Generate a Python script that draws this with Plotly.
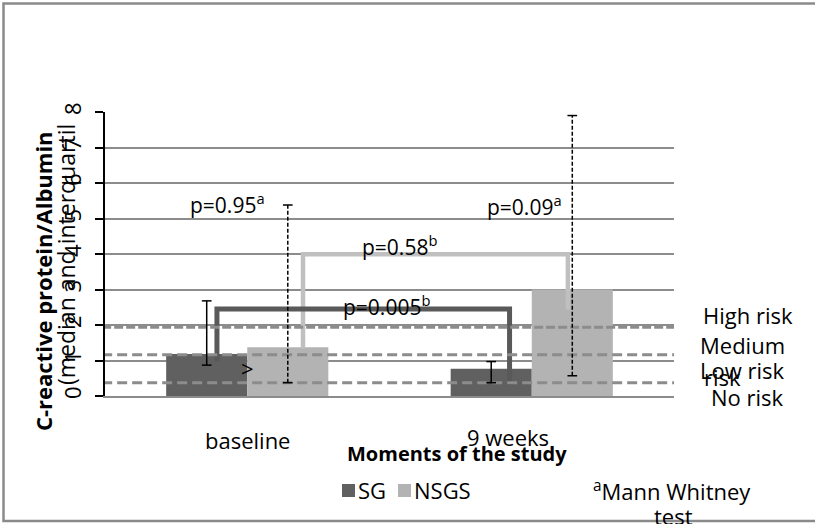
import plotly.graph_objects as go

# ---------------- data ----------------
categories = ["baseline", "9 weeks"]
series_names = ["SG", "NSGS"]
sg_median = [1.18, 0.77]
nsgs_median = [1.37, 3.0]
sg_q1 = [0.87, 0.375]
sg_q3 = [2.68, 0.97]
nsgs_q1 = [0.375, 0.57]
nsgs_q3 = [5.38, 7.9]
risk_levels = [1.94, 1.16, 0.375]
risk_labels = ["High risk", "Medium", "risk", "Low risk", "No risk"]
risk_label_y = [2.28, 1.43, 0.54, 0.73, -0.03]
y_ticks = [0, 1, 2, 3, 4, 5, 6, 7, 8]
sg_bracket_x = [-0.1065, -0.1065, 0.922, 0.922]
sg_bracket_y = [0.97, 2.45, 2.45, 0.31]
nsgs_bracket_x = [0.196, 0.196, 1.127, 1.127]
nsgs_bracket_y = [1.34, 3.99, 3.99, 2.44]
p_texts = ["p=0.95<sup>a</sup>", "p=0.58<sup>b</sup>", "p=0.005<sup>b</sup>", "p=0.09<sup>a</sup>"]
p_x = [-0.07, 0.534, 0.49, 0.974]
p_y = [5.43, 4.25, 2.56, 5.38]

# ---------------- layout geometry ----------------
W, H = 815, 524
L, R, T, B = 105, 674, 112, 396
BAR_W = 0.285
FONT = "Open Sans"
SG_COL = "#606060"
NSGS_COL = "#b3b3b3"


def px_x(px):
    return (px - L) / (R - L)


def px_y(py):
    return (B - py) / (B - T)


def val_px(v):
    return B - v * (B - T) / 8.0


fig = go.Figure()

# bars
fig.add_trace(go.Bar(x=[i - BAR_W / 2 for i in range(len(categories))], y=sg_median,
                     width=BAR_W, marker=dict(color=SG_COL, line=dict(width=0)),
                     name=series_names[0], showlegend=False))
fig.add_trace(go.Bar(x=[i + BAR_W / 2 for i in range(len(categories))], y=nsgs_median,
                     width=BAR_W, marker=dict(color=NSGS_COL, line=dict(width=0)),
                     name=series_names[1], showlegend=False))

# brackets
fig.add_trace(go.Scatter(x=nsgs_bracket_x, y=nsgs_bracket_y, mode="lines",
                         line=dict(color="#c0c0c0", width=4.5), showlegend=False, hoverinfo="skip"))
fig.add_trace(go.Scatter(x=sg_bracket_x, y=sg_bracket_y, mode="lines",
                         line=dict(color="#595959", width=5), showlegend=False, hoverinfo="skip"))

# risk lines
risk_dash = ["9px,3px", "10px,5px", "10px,5px"]
for lvl, d in zip(risk_levels, risk_dash):
    fig.add_trace(go.Scatter(x=[-0.51, 1.5], y=[lvl, lvl], mode="lines",
                             line=dict(color="#8c8c8c", width=3, dash=d),
                             showlegend=False, hoverinfo="skip"))

# error bars (interquartile)
CAP = 0.017


def add_err(xc, lo, hi, dash):
    fig.add_trace(go.Scatter(x=[xc, xc], y=[lo, hi], mode="lines",
                             line=dict(color="black", width=1.5, dash=dash),
                             showlegend=False, hoverinfo="skip"))
    for v in (lo, hi):
        fig.add_trace(go.Scatter(x=[xc - CAP, xc + CAP], y=[v, v], mode="lines",
                                 line=dict(color="black", width=1.5),
                                 showlegend=False, hoverinfo="skip"))


for i in range(len(categories)):
    add_err(i - BAR_W / 2, sg_q1[i], sg_q3[i], "solid")
    add_err(i + BAR_W / 2, nsgs_q1[i], nsgs_q3[i], "4px,2px")

ann = []


def A(**kw):
    kw.setdefault("showarrow", False)
    kw.setdefault("xanchor", "center")
    kw.setdefault("yanchor", "middle")
    ann.append(kw)


# p-values
for t, x, y in zip(p_texts, p_x, p_y):
    A(x=x, y=y, xref="x", yref="y", text=t, font=dict(family=FONT, size=21, color="black"))
# ">" mark
A(x=0.0, y=0.8, xref="x", yref="y", text=">", font=dict(family=FONT, size=22, color="black"))
# risk labels
risk_label_px = [748, 742, 722, 742, 747]
for t, xp, y in zip(risk_labels, risk_label_px, risk_label_y):
    A(x=px_x(xp), y=px_y(val_px(y)), xref="paper", yref="paper", text=t,
      font=dict(family=FONT, size=22, color="black"))
# category labels
cat_px = [(247, 440), (508, 437)]
for t, (xp, yp) in zip(categories, cat_px):
    A(x=px_x(xp), y=px_y(yp), xref="paper", yref="paper", text=t,
      font=dict(family=FONT, size=22, color="black"))
# axis titles
A(x=px_x(457), y=px_y(453), xref="paper", yref="paper",
  text="<b>Moments of the study</b>", font=dict(family=FONT, size=20, color="black"))
A(x=px_x(43), y=px_y(281), xref="paper", yref="paper",
  text="<b>C-reactive protein/Albumin</b>", textangle=-90,
  font=dict(family=FONT, size=22, color="black"))
A(x=px_x(66), y=px_y(255), xref="paper", yref="paper",
  text="(median and interquartil", textangle=-90,
  font=dict(family=FONT, size=23, color="black"))
# legend (manual)
A(x=px_x(356), y=px_y(490), xref="paper", yref="paper", xanchor="left",
  text=series_names[0], font=dict(family=FONT, size=22, color="black"))
A(x=px_x(412), y=px_y(490), xref="paper", yref="paper", xanchor="left",
  text=series_names[1], font=dict(family=FONT, size=22, color="black"))
# footnote
A(x=px_x(672), y=px_y(490), xref="paper", yref="paper",
  text="<sup>a</sup>Mann Whitney", font=dict(family=FONT, size=22, color="black"))
A(x=px_x(673), y=px_y(516), xref="paper", yref="paper",
  text="test", font=dict(family=FONT, size=22, color="black"))

shapes = [
    dict(type="rect", xref="paper", yref="paper", x0=px_x(342), x1=px_x(355),
         y0=px_y(497), y1=px_y(484), fillcolor=SG_COL, line=dict(width=0)),
    dict(type="rect", xref="paper", yref="paper", x0=px_x(398), x1=px_x(411),
         y0=px_y(497), y1=px_y(484), fillcolor=NSGS_COL, line=dict(width=0)),
    dict(type="rect", xref="paper", yref="paper", x0=px_x(3.5), x1=px_x(830),
         y0=px_y(521), y1=px_y(3.5), line=dict(color="#8a8a8a", width=2.5),
         fillcolor="rgba(0,0,0,0)", layer="above"),
]

fig.update_layout(
    width=W, height=H,
    margin=dict(l=L, r=W - R, t=T, b=H - B, pad=0),
    paper_bgcolor="white", plot_bgcolor="white",
    showlegend=False,
    xaxis=dict(range=[-0.5, 1.5], showgrid=False, zeroline=False, showticklabels=False,
               ticks="", showline=True, linecolor="#8c8c8c", linewidth=2, fixedrange=True),
    yaxis=dict(range=[0, 8], tickvals=y_ticks, ticktext=[str(v) for v in y_ticks],
               tickangle=-90, showgrid=True, gridcolor="#8c8c8c", gridwidth=1.5,
               zeroline=False, showline=True, linecolor="black", linewidth=1.5,
               ticks="outside", ticklen=8, tickcolor="black", tickwidth=1.5,
               ticklabelstandoff=5,
               tickfont=dict(family=FONT, size=22, color="black"), fixedrange=True),
    annotations=ann, shapes=shapes,
    font=dict(family=FONT, color="black"),
)

fig.write_html("out.html", config={"displayModeBar": False},
               post_script="document.body.style.margin='0px';")
